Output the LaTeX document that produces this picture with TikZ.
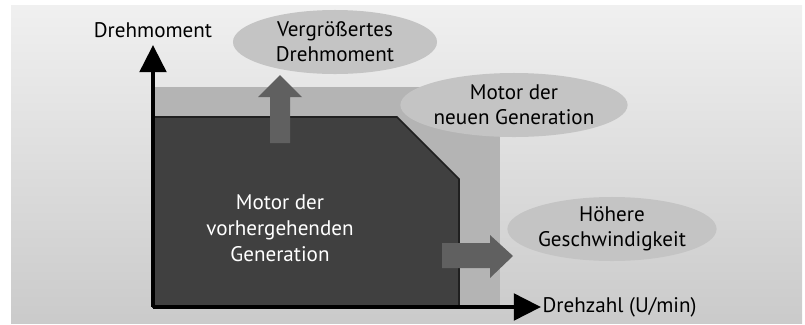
\documentclass[tikz,border=0pt]{standalone}
\usepackage{fontspec}
\setmainfont{PT Sans}
\usetikzlibrary{shapes.geometric,arrows.meta}
\definecolor{panel}{HTML}{E6E6E6}
\definecolor{lightarea}{HTML}{B4B4B4}
\definecolor{darkarea}{HTML}{404040}
\definecolor{bluntarrow}{HTML}{606060}
\definecolor{bubble}{HTML}{C4C4C4}
\tikzset{
    bubblenode/.style={ellipse, fill=bubble, minimum width=5.1cm, minimum height=1.6cm, inner sep=0pt, align=center, font=\fontsize{15}{18}\selectfont},
    axislabel/.style={font=\fontsize{15}{18}\selectfont, inner sep=1pt},
    axisline/.style={line width=3pt, -{Triangle[length=0.68cm, width=0.66cm]}}
}
\begin{document}
\begin{tikzpicture}[x=0.025cm, y=-0.025cm]
        \useasboundingbox (0,0) rectangle (805,324);
        \shade[top color=panel!60!white, bottom color=panel!88!black] (11,5) rectangle (802,323);
        \fill[lightarea] (153,87) rectangle (500,307);
        \draw[darkarea!50!black, fill=darkarea, line width=1.2pt] (153,307) -- (153,117) -- (397,117) -- (459,179) -- (459,307) -- cycle;
        \fill[bluntarrow] (270,143) -- (270,97) -- (258,97) -- (280,75) -- (302,97) -- (290,97) -- (290,143) -- cycle;
        \fill[bluntarrow] (442,243) -- (490,243) -- (490,235) -- (513,256) -- (490,278) -- (490,268) -- (442,268) -- cycle;
        \node[bubblenode] (torque) at (335,42) {Vergrößertes\\Drehmoment};
        \node[bubblenode] (newmotor) at (514,105) {Motor der\\neuen Generation};
        \node[bubblenode] (speed) at (612,229) {Höhere\\Geschwindigkeit};
        \node[align=center, text=white, font=\fontsize{15}{18.5}\selectfont] (oldmotor) at (280,228) {Motor der\\vorhergehenden\\Generation};
        \coordinate (origin) at (153,307);
        \coordinate (ytip) at (153,45);
        \coordinate (xtip) at (541,307);
        \draw[axisline] (origin) -- (ytip);
        \draw[axisline] (origin) -- (xtip);
        \node[axislabel, anchor=base, yshift=0.2cm] (ylabel) at (ytip) {Drehmoment};
        \node[axislabel, anchor=west] (xlabel) at (xtip) {Drehzahl (U/min)};
    \end{tikzpicture}
\end{document}
